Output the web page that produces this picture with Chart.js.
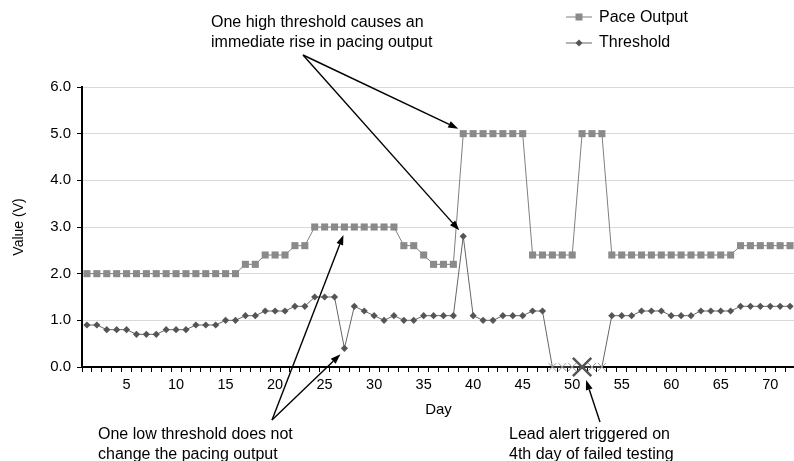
<!DOCTYPE html>
<html>
<head>
<meta charset="utf-8">
<style>
  html, body { margin: 0; padding: 0; overflow: hidden; background: #fff; }
  #wrap { width: 800px; height: 461px; }
</style>
</head>
<body>
<div id="wrap">
  <canvas id="myChart" width="800" height="461"></canvas>
</div>

<script src="https://cdn.jsdelivr.net/npm/chart.js"></script>

<script>
  // day index on the x axis
  const days = [
     1,  2,  3,  4,  5,  6,  7,  8,  9, 10, 11, 12, 13, 14, 15, 16, 17, 18,
    19, 20, 21, 22, 23, 24, 25, 26, 27, 28, 29, 30, 31, 32, 33, 34, 35, 36,
    37, 38, 39, 40, 41, 42, 43, 44, 45, 46, 47, 48, 49, 50, 51, 52, 53, 54,
    55, 56, 57, 58, 59, 60, 61, 62, 63, 64, 65, 66, 67, 68, 69, 70, 71, 72
  ];

  // pacing output (V)
  const paceOutput = [
    2.0, 2.0, 2.0, 2.0, 2.0, 2.0, 2.0, 2.0, 2.0, 2.0, 2.0, 2.0, 2.0, 2.0, 2.0, 2.0, 2.2, 2.2,
    2.4, 2.4, 2.4, 2.6, 2.6, 3.0, 3.0, 3.0, 3.0, 3.0, 3.0, 3.0, 3.0, 3.0, 2.6, 2.6, 2.4, 2.2,
    2.2, 2.2, 5.0, 5.0, 5.0, 5.0, 5.0, 5.0, 5.0, 2.4, 2.4, 2.4, 2.4, 2.4, 5.0, 5.0, 5.0, 2.4,
    2.4, 2.4, 2.4, 2.4, 2.4, 2.4, 2.4, 2.4, 2.4, 2.4, 2.4, 2.4, 2.6, 2.6, 2.6, 2.6, 2.6, 2.6
  ];

  // measured capture threshold (V), 0 = failed test
  const threshold = [
    0.9, 0.9, 0.8, 0.8, 0.8, 0.7, 0.7, 0.7, 0.8, 0.8, 0.8, 0.9, 0.9, 0.9, 1.0, 1.0, 1.1, 1.1,
    1.2, 1.2, 1.2, 1.3, 1.3, 1.5, 1.5, 1.5, 0.4, 1.3, 1.2, 1.1, 1.0, 1.1, 1.0, 1.0, 1.1, 1.1,
    1.1, 1.1, 2.8, 1.1, 1.0, 1.0, 1.1, 1.1, 1.1, 1.2, 1.2, 0.0, 0.0, 0.0, 0.0, 0.0, 0.0, 1.1,
    1.1, 1.1, 1.2, 1.2, 1.2, 1.1, 1.1, 1.1, 1.2, 1.2, 1.2, 1.2, 1.3, 1.3, 1.3, 1.3, 1.3, 1.3
  ];

  const alertDay = 51;
  const xTickLabels = [5, 10, 15, 20, 25, 30, 35, 40, 45, 50, 55, 60, 65, 70];
  const yTickLabels = ['0.0', '1.0', '2.0', '3.0', '4.0', '5.0', '6.0'];

  const FONT = '"Liberation Sans", Arial, Helvetica, sans-serif';
  Chart.defaults.font.family = FONT;
  Chart.defaults.font.size = 14;
  Chart.defaults.color = '#000';

  // callouts: text block + arrows pointing at (day, value) with a small pixel nudge
  const notes = [
    {
      lines: ['One high threshold causes an', 'immediate rise in pacing output'],
      x: 211, y: 27, from: [303, 55],
      targets: [[39, paceOutput[38], -5, -5], [39, threshold[38], -4, -6]]
    },
    {
      lines: ['One low threshold does not', 'change the pacing output'],
      x: 98, y: 439, from: [272, 420],
      targets: [[27, paceOutput[26], -1, 8], [27, threshold[26], -4, 6]]
    },
    {
      lines: ['Lead alert triggered on', '4th day of failed testing'],
      x: 509, y: 439, from: [600, 422],
      targets: [[alertDay, threshold[alertDay - 1], 4, 13]]
    }
  ];

  function arrow(ctx, x0, y0, x1, y1) {
    const a = Math.atan2(y1 - y0, x1 - x0);
    const len = 10, hw = 3.5;
    const bx = x1 - len * Math.cos(a), by = y1 - len * Math.sin(a);
    ctx.beginPath();
    ctx.moveTo(x0, y0);
    ctx.lineTo(bx, by);
    ctx.stroke();
    ctx.beginPath();
    ctx.moveTo(x1, y1);
    ctx.lineTo(bx + hw * Math.sin(a), by - hw * Math.cos(a));
    ctx.lineTo(bx - hw * Math.sin(a), by + hw * Math.cos(a));
    ctx.closePath();
    ctx.fill();
  }

  const extras = {
    id: 'extras',
    afterDraw(chart) {
      const ctx = chart.ctx;
      const xs = chart.scales.x, ys = chart.scales.y;
      ctx.save();

      // legend
      ctx.font = '16px ' + FONT;
      ctx.textBaseline = 'middle';
      ctx.textAlign = 'left';
      ctx.lineWidth = 1;
      ctx.strokeStyle = '#7f7f7f';
      ctx.beginPath(); ctx.moveTo(566, 17); ctx.lineTo(592, 17); ctx.stroke();
      ctx.fillStyle = '#8a8a8a';
      ctx.fillRect(575.5, 13.5, 7, 7);
      ctx.strokeStyle = '#666';
      ctx.beginPath(); ctx.moveTo(566, 43); ctx.lineTo(592, 43); ctx.stroke();
      ctx.fillStyle = '#555';
      ctx.beginPath();
      ctx.moveTo(579, 39.5); ctx.lineTo(582.5, 43); ctx.lineTo(579, 46.5); ctx.lineTo(575.5, 43);
      ctx.closePath(); ctx.fill();
      ctx.fillStyle = '#000';
      ctx.fillText('Pace Output', 599, 18);
      ctx.fillText('Threshold', 599, 43);

      // callouts
      ctx.textBaseline = 'alphabetic';
      ctx.strokeStyle = '#000';
      ctx.fillStyle = '#000';
      ctx.lineWidth = 1.4;
      notes.forEach(n => {
        n.lines.forEach((t, i) => ctx.fillText(t, n.x, n.y + i * 20));
        n.targets.forEach(([d, v, dx, dy]) => {
          const px = xs.getPixelForValue(days.indexOf(d)) + dx;
          const py = ys.getPixelForValue(v) + dy;
          arrow(ctx, n.from[0], n.from[1], px, py);
        });
      });
      ctx.restore();
    }
  };

  const isAlert = c => days[c.dataIndex] === alertDay;
  const isFail = c => threshold[c.dataIndex] === 0;

  new Chart(document.getElementById('myChart'), {
    type: 'line',
    data: {
      labels: days,
      datasets: [{
        label: 'Pace Output',
        data: paceOutput,
        borderColor: '#7f7f7f',
        borderWidth: 1,
        pointStyle: 'rect',
        pointRadius: 5,
        pointBorderWidth: 0,
        pointBackgroundColor: '#8a8a8a',
        tension: 0,
        clip: false
      }, {
        label: 'Threshold',
        data: threshold,
        borderColor: '#666',
        borderWidth: 1,
        pointStyle: c => isFail(c) ? 'crossRot' : 'rectRot',
        pointRadius: c => isAlert(c) ? 13 : (isFail(c) ? 5.5 : 3.6),
        pointBorderWidth: c => isAlert(c) ? 2.5 : (isFail(c) ? 1 : 0),
        pointBorderColor: c => isAlert(c) ? '#555' : '#9a9a9a',
        pointBackgroundColor: '#555',
        tension: 0,
        clip: false
      }]
    },
    options: {
      responsive: false,
      animation: false,
      events: [],
      layout: { padding: { top: 87, right: 2, bottom: 0, left: 0 } },
      plugins: {
        legend: { display: false },
        tooltip: { enabled: false }
      },
      scales: {
        x: {
          type: 'category',
          offset: true,
          afterFit: s => { s.height = 94; },
          grid: { offset: true, drawOnChartArea: false, tickColor: '#000', tickLength: 5 },
          border: { color: '#000', width: 2 },
          ticks: {
            autoSkip: false,
            maxRotation: 0,
            padding: 4,
            font: { size: 14.5 },
            callback: (v, i) => xTickLabels.includes(days[i]) ? String(days[i]) : ''
          },
          title: { display: true, text: 'Day', font: { size: 15 }, padding: { top: 0, bottom: 42 } }
        },
        y: {
          min: 0,
          max: 6,
          afterFit: s => { s.width = 82; },
          grid: { color: '#d9d9d9', tickColor: '#000', tickLength: 5 },
          border: { color: '#000', width: 2 },
          ticks: { stepSize: 1, padding: 6, font: { size: 15 }, callback: v => yTickLabels[v] },
          title: { display: true, text: 'Value (V)', padding: { top: 11, bottom: 0 } }
        }
      }
    },
    plugins: [extras]
  });
</script>
</body>
</html>
